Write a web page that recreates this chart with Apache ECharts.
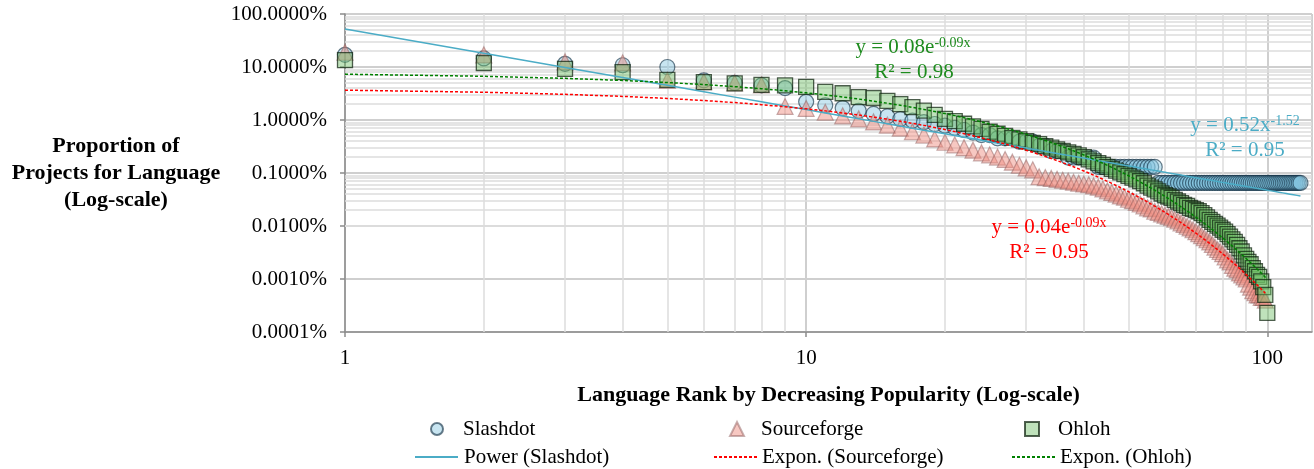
<!DOCTYPE html>
<html>
<head>
<meta charset="utf-8">
<script src="https://cdn.jsdelivr.net/npm/echarts@6/dist/echarts.min.js"></script>
<style>
  html, body { margin: 0; background: #fff; }
  #chart { width: 1314px; height: 469px; }
</style>
</head>
<body>
<div id="chart"></div>
<script>
// share of projects (%) by language rank
const slashdot = [
  17, 14.5, 11.5, 10.8, 10, 5.6, 5.0, 4.5, 4.0, 2.2,
  1.9, 1.68, 1.49, 1.3, 1.17, 1.04, 0.97, 0.91, 0.84, 0.78,
  0.71, 0.65, 0.58, 0.52, 0.52, 0.45, 0.45, 0.45, 0.39, 0.39,
  0.39, 0.325, 0.325, 0.26, 0.26, 0.26, 0.195, 0.195, 0.195, 0.195,
  0.195, 0.195, 0.13, 0.13, 0.13, 0.13, 0.13, 0.13, 0.13, 0.13,
  0.13, 0.13, 0.13, 0.13, 0.13, 0.13, 0.13, 0.065, 0.065, 0.065,
  0.065, 0.065, 0.065, 0.065, 0.065, 0.065, 0.065, 0.065, 0.065, 0.065,
  0.065, 0.065, 0.065, 0.065, 0.065, 0.065, 0.065, 0.065, 0.065, 0.065,
  0.065, 0.065, 0.065, 0.065, 0.065, 0.065, 0.065, 0.065, 0.065, 0.065,
  0.065, 0.065, 0.065, 0.065, 0.065, 0.065, 0.065, 0.065, 0.065, 0.065,
  0.065, 0.065, 0.065, 0.065, 0.065, 0.065, 0.065, 0.065, 0.065, 0.065,
  0.065, 0.065, 0.065, 0.065, 0.065, 0.065, 0.065, 0.065
];
const sourceforge = [
  19, 17, 12.5, 12, 5.6, 5.3, 5.0, 4.6, 1.8, 1.65,
  1.4, 1.2, 1.05, 0.92, 0.8, 0.7, 0.6, 0.52, 0.44, 0.38,
  0.34, 0.3, 0.27, 0.24, 0.22, 0.2, 0.18, 0.16, 0.14, 0.125,
  0.115, 0.085, 0.082, 0.079, 0.076, 0.073, 0.07, 0.067, 0.064, 0.062,
  0.06, 0.057, 0.054, 0.05, 0.046, 0.043, 0.04, 0.037, 0.035, 0.032,
  0.03, 0.028, 0.026, 0.024, 0.022, 0.021, 0.019, 0.018, 0.017, 0.016,
  0.0152, 0.0143, 0.0134, 0.0125, 0.0115, 0.0107, 0.0099, 0.0092, 0.0085, 0.0078,
  0.0072, 0.0066, 0.006, 0.0055, 0.005, 0.0045, 0.004, 0.0036, 0.0033, 0.003,
  0.0026, 0.0023, 0.0021, 0.0018, 0.0016, 0.0015, 0.0013, 0.0012, 0.0011, 0.001,
  0.0008, 0.0007, 0.0006, 0.00055, 0.0005, 0.0005, 0.00045, 0.00045, 0.0004
];
const ohloh = [
  13.5, 11.9, 9.2, 8.0, 5.7, 5.2, 4.9, 4.6, 4.5, 4.2,
  3.4, 3.2, 2.7, 2.6, 2.3, 2.0, 1.75, 1.5, 1.25, 1.05,
  0.95, 0.85, 0.76, 0.68, 0.6, 0.55, 0.5, 0.46, 0.43, 0.4,
  0.37, 0.35, 0.32, 0.3, 0.28, 0.26, 0.245, 0.23, 0.215, 0.2,
  0.18, 0.166, 0.154, 0.142, 0.13, 0.12, 0.111, 0.103, 0.095, 0.088,
  0.082, 0.076, 0.07, 0.064, 0.058, 0.053, 0.049, 0.045, 0.041, 0.038,
  0.036, 0.034, 0.031, 0.029, 0.027, 0.025, 0.024, 0.022, 0.021, 0.02,
  0.019, 0.0175, 0.016, 0.0145, 0.013, 0.012, 0.011, 0.0102, 0.0093, 0.0085,
  0.0078, 0.007, 0.0063, 0.0056, 0.005, 0.0044, 0.0038, 0.0033, 0.0028, 0.0024,
  0.0021, 0.0019, 0.0016, 0.0014, 0.0012, 0.0011, 0.0009, 0.0007, 0.0005, 0.00023
];

// fitted trend lines as printed on the chart (y as a fraction)
const powerFit = { a: 0.52, b: -1.52, r2: 0.95 };
const sfFit = { a: 0.04, b: -0.09, r2: 0.95 };
const ohFit = { a: 0.08, b: -0.09, r2: 0.98 };

const xTicks = [1, 10, 100];
const yTicks = [0.0001, 0.001, 0.01, 0.1, 1, 10, 100];

const FONT = "'Liberation Serif', 'Times New Roman', serif";

const toPoints = (arr) => arr.map((v, i) => [i + 1, v]);
const powerLine = slashdot.map((_, i) => [i + 1, 100 * powerFit.a * Math.pow(i + 1, powerFit.b)]);
const sfLine = sourceforge.map((_, i) => [i + 1, 100 * sfFit.a * Math.exp(sfFit.b * (i + 1))]);
const ohLine = ohloh.map((_, i) => [i + 1, 100 * ohFit.a * Math.exp(ohFit.b * (i + 1))]);

// minor gridlines at 2..9 of every decade
const minorX = [];
[1, 10].forEach((d) => { for (let k = 2; k <= 9; k++) minorX.push(d * k); });
const minorY = [];
yTicks.slice(0, -1).forEach((d) => { for (let k = 2; k <= 9; k++) minorY.push(d * k); });

const chart = echarts.init(document.getElementById("chart"));

const legendText = { fontFamily: FONT, fontSize: 21, color: "#000", lineHeight: 22 };
const makeLegend = (name, left, top, w, pad) => {
  const lg = {
    data: [name],
    left: left,
    top: top,
    itemWidth: w,
    itemHeight: 14,
    padding: 0,
    selectedMode: false,
    textStyle: Object.assign({}, legendText, { padding: [0, 0, 0, pad] }),
  };
  // trend line entries: hide the dot that line series put in the legend icon
  if (w > 20) lg.itemStyle = { opacity: 0 };
  return lg;
};

const supText = (main, sup, x, y, color) => ({
  type: "text",
  x: x,
  y: y,
  z: 100,
  silent: true,
  style: {
    text: main + "{s|" + sup + "}",
    fontFamily: FONT,
    fontSize: 21,
    fill: color,
    align: "center",
    verticalAlign: "middle",
    rich: {
      s: { fontFamily: FONT, fontSize: 14, fill: color, verticalAlign: "top", lineHeight: 14 },
    },
  },
});
const plainText = (txt, x, y, color) => ({
  type: "text",
  x: x,
  y: y,
  z: 100,
  silent: true,
  style: {
    text: txt,
    fontFamily: FONT,
    fontSize: 21,
    fill: color,
    align: "center",
    verticalAlign: "middle",
  },
});

const option = {
  animation: false,
  backgroundColor: "#fff",
  grid: { left: 345, right: 2, top: 14, bottom: 137 },
  xAxis: {
    type: "log",
    logBase: 10,
    min: 1,
    max: 125,
    name: "Language Rank by Decreasing Popularity (Log-scale)",
    nameLocation: "middle",
    nameGap: 52,
    nameTextStyle: { fontFamily: FONT, fontSize: 22, fontWeight: "bold", color: "#000" },
    axisLine: { lineStyle: { color: "#8c8c8c", width: 1.5 } },
    axisTick: { show: true, length: 5, lineStyle: { color: "#8c8c8c", width: 1.5 } },
    axisLabel: {
      margin: 16,
      fontFamily: FONT,
      fontSize: 21,
      color: "#000",
      showMaxLabel: false,
      formatter: (v) => {
        const r = Math.round(v);
        return xTicks.includes(r) && Math.abs(v - r) < 1e-6 ? String(r) : "";
      },
    },
    splitLine: { show: true, lineStyle: { color: "#cfcfcf", width: 2 } },
  },
  yAxis: {
    type: "log",
    logBase: 10,
    min: yTicks[0],
    max: yTicks[yTicks.length - 1],
    axisLine: { show: true, lineStyle: { color: "#8c8c8c", width: 1.5 } },
    axisTick: { show: true, length: 5, lineStyle: { color: "#8c8c8c", width: 1.5 } },
    axisLabel: {
      margin: 18,
      fontFamily: FONT,
      fontSize: 21,
      color: "#000",
      formatter: (v) => v.toFixed(4) + "%",
    },
    splitLine: { show: true, lineStyle: { color: "#cfcfcf", width: 2 } },
  },
  legend: [
    makeLegend("Slashdot", 430, 418, 12, 15),
    makeLegend("Sourceforge", 729, 418, 14, 12),
    makeLegend("Ohloh", 1024, 418, 14, 14),
    makeLegend("Power (Slashdot)", 414, 446, 43, 1),
    makeLegend("Expon. (Sourceforge)", 713, 446, 43, 0),
    makeLegend("Expon. (Ohloh)", 1011, 446, 43, 0),
  ],
  graphic: [
    {
      type: "text",
      x: 116,
      y: 173,
      z: 100,
      silent: true,
      style: {
        text: "Proportion of\nProjects for Language\n(Log-scale)",
        fontFamily: FONT,
        fontSize: 22,
        fontWeight: "bold",
        lineHeight: 27,
        fill: "#000",
        align: "center",
        verticalAlign: "middle",
      },
    },
    supText("y = " + ohFit.a.toFixed(2) + "e", ohFit.b.toFixed(2) + "x", 913, 47, "#1e8b1e"),
    plainText("R\u00b2 = " + ohFit.r2.toFixed(2), 914, 72, "#1e8b1e"),
    supText("y = " + powerFit.a.toFixed(2) + "x", powerFit.b.toFixed(2), 1245, 125, "#4bacc6"),
    plainText("R\u00b2 = " + powerFit.r2.toFixed(2), 1245, 150, "#4bacc6"),
    supText("y = " + sfFit.a.toFixed(2) + "e", sfFit.b.toFixed(2) + "x", 1049, 227, "#ff0000"),
    plainText("R\u00b2 = " + sfFit.r2.toFixed(2), 1049, 252, "#ff0000"),
  ],
  series: [
    {
      name: "grid",
      type: "line",
      data: [],
      z: 1,
      silent: true,
      markLine: {
        z: 1,
        silent: true,
        symbol: ["none", "none"],
        label: { show: false },
        lineStyle: { color: "#dcdcdc", width: 1.5, type: "solid" },
        data: minorX.map((v) => ({ xAxis: v })).concat(minorY.map((v) => ({ yAxis: v }))),
      },
    },
    {
      name: "Slashdot",
      type: "scatter",
      symbol: "circle",
      symbolSize: 15,
      data: toPoints(slashdot),
      itemStyle: { color: "rgba(130,195,222,0.55)", borderColor: "rgba(20,50,70,0.8)", borderWidth: 1.2 },
    },
    {
      name: "Sourceforge",
      type: "scatter",
      symbol: "triangle",
      symbolSize: 16,
      data: toPoints(sourceforge),
      itemStyle: { color: "rgba(238,140,128,0.6)", borderColor: "rgba(140,90,90,0.6)", borderWidth: 1.2 },
    },
    {
      name: "Ohloh",
      type: "scatter",
      symbol: "rect",
      symbolSize: 15,
      data: toPoints(ohloh),
      itemStyle: { color: "rgba(110,190,100,0.55)", borderColor: "rgba(15,35,15,0.9)", borderWidth: 1.3 },
    },
    {
      name: "Power (Slashdot)",
      type: "line",
      data: powerLine,
      symbol: "none",
      lineStyle: { color: "#4bacc6", width: 1.5 },
      itemStyle: { color: "#4bacc6" },
      z: 5,
    },
    {
      name: "Expon. (Sourceforge)",
      type: "line",
      data: sfLine,
      symbol: "none",
      lineStyle: { color: "#ff0000", width: 1.5, type: [3, 2] },
      itemStyle: { color: "#ff0000" },
      z: 5,
    },
    {
      name: "Expon. (Ohloh)",
      type: "line",
      data: ohLine,
      symbol: "none",
      lineStyle: { color: "#008000", width: 1.5, type: [3, 2] },
      itemStyle: { color: "#008000" },
      z: 5,
    },
  ],
};

chart.setOption(option);
window.addEventListener("resize", () => chart.resize());
</script>
</body>
</html>
